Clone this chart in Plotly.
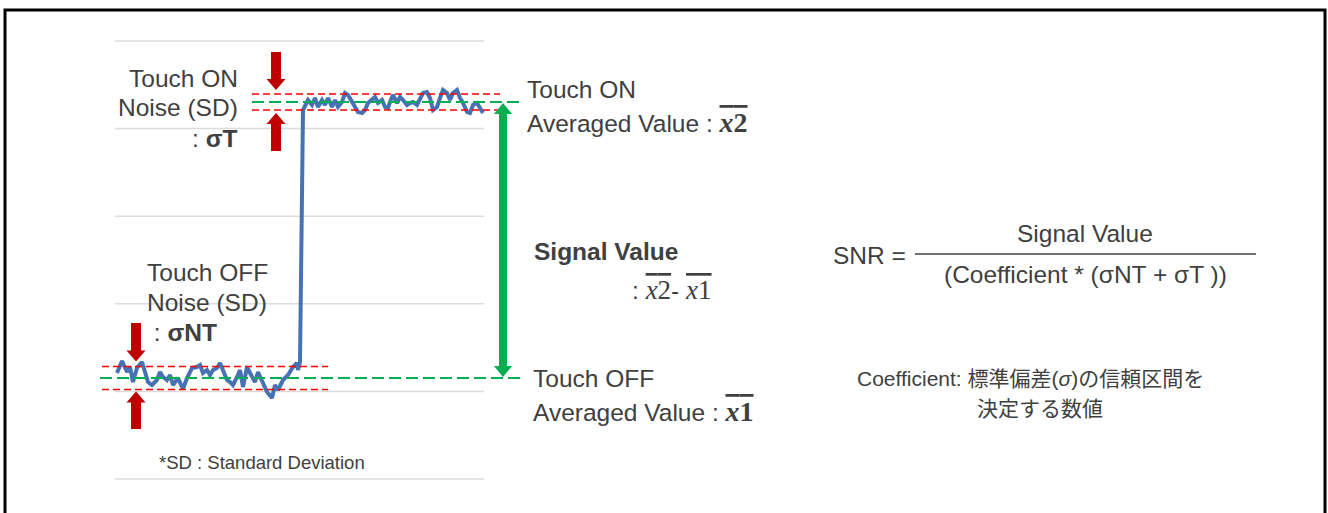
import plotly.graph_objects as go

# ---------------- data (sample index, raw signal counts) ----------------
t_touch_off = [1, 6, 11, 14, 17, 21, 26, 29, 32, 36, 41, 44, 47, 51, 54, 57, 62, 67, 71, 76,
               81, 84, 87, 91, 94, 97, 101, 104, 107, 111, 114, 117, 121, 124, 127, 131, 134,
               139, 142, 147, 151, 156, 159, 162, 167, 172, 177, 181, 182, 184]
v_touch_off = [106, 118, 107, 112, 97, 111, 117, 107, 97, 94, 99, 107, 102, 99, 104, 94, 101,
               90, 101, 111, 112, 114, 106, 109, 104, 109, 111, 116, 109, 99, 97, 94, 102, 109,
               92, 112, 106, 97, 107, 96, 87, 81, 94, 89, 99, 104, 112, 116, 109, 117]
t_touch_on = [186, 187, 192, 196, 199, 202, 206, 209, 212, 216, 219, 222, 226, 229, 232, 236,
              239, 242, 246, 249, 252, 256, 259, 262, 266, 269, 272, 274, 277, 281, 284, 287,
              291, 294, 297, 301, 304, 307, 311, 314, 317, 321, 324, 327, 331, 334, 337, 341,
              344, 347, 351, 354, 357, 361, 364, 367]
v_touch_on = [363, 369, 379, 374, 381, 372, 379, 374, 381, 372, 379, 372, 377, 386, 384, 377,
              372, 367, 366, 369, 376, 379, 382, 376, 379, 372, 371, 377, 384, 376, 382, 379,
              374, 376, 377, 374, 381, 386, 387, 381, 369, 372, 381, 389, 386, 379, 386, 389,
              381, 376, 367, 366, 374, 376, 371, 366]

off_mean, off_sd = 101, 11.5
on_mean, on_sd = 377, 8
grid_levels = [0, 87.6, 175.2, 262.8, 350.4, 438]

# ---------------- styling ----------------
W, H = 1328, 513
X0, Y0 = 116, 479          # pixel position of data origin
TXT = "#404040"
FONT = "Liberation Sans, Arial, Noto Sans CJK JP, sans-serif"
BLUE = "#4672b4"
GREEN = "#00b050"
RED_D = "#ff0000"
RED_A = "#c00000"
FS = 24.5


def X(px):
    return px - X0


def Y(py):
    return Y0 - py


fig = go.Figure()
fig.add_trace(go.Scatter(x=t_touch_off + t_touch_on, y=v_touch_off + v_touch_on,
                         mode="lines", line=dict(color=BLUE, width=4),
                         hoverinfo="skip", showlegend=False))

shapes = []
# grid lines (only under the signal plot)
for g in grid_levels:
    shapes.append(dict(type="line", xref="x", yref="y", x0=X(115), x1=X(484), y0=g, y1=g,
                       line=dict(color="#dcdcdc", width=1.5), layer="below"))

# mean lines
shapes.append(dict(type="line", xref="x", yref="y", x0=X(100), x1=X(522), y0=off_mean, y1=off_mean,
                   line=dict(color=GREEN, width=2, dash="12px,5px")))
shapes.append(dict(type="line", xref="x", yref="y", x0=X(252), x1=X(522), y0=on_mean, y1=on_mean,
                   line=dict(color=GREEN, width=2, dash="12px,5px")))
# SD bands
for lvl in (off_mean + off_sd, off_mean - off_sd):
    shapes.append(dict(type="line", xref="x", yref="y", x0=X(102), x1=X(328), y0=lvl, y1=lvl,
                       line=dict(color=RED_D, width=1.5, dash="7px,4px")))
for lvl in (on_mean + on_sd, on_mean - on_sd):
    shapes.append(dict(type="line", xref="x", yref="y", x0=X(252), x1=X(500), y0=lvl, y1=lvl,
                       line=dict(color=RED_D, width=1.5, dash="7px,4px")))


def arrow(x, y_tail, y_tip, shw=5, hhw=9.5, hl=11):
    s = 1 if y_tip > y_tail else -1
    yb = y_tip - s * hl
    return (f"M {x-shw},{y_tail} L {x-shw},{yb} L {x-hhw},{yb} L {x},{y_tip} "
            f"L {x+hhw},{yb} L {x+shw},{yb} L {x+shw},{y_tail} Z")


def darrow(x, y_lo, y_hi, shw=4, hhw=9, hl=11):
    return (f"M {x},{y_lo} L {x-hhw},{y_lo+hl} L {x-shw},{y_lo+hl} L {x-shw},{y_hi-hl} "
            f"L {x-hhw},{y_hi-hl} L {x},{y_hi} L {x+hhw},{y_hi-hl} L {x+shw},{y_hi-hl} "
            f"L {x+shw},{y_lo+hl} L {x+hhw},{y_lo+hl} Z")


ax_on, ax_off = X(276), X(136)
for p in [arrow(ax_on, on_mean + 50, on_mean + on_sd + 4),
          arrow(ax_on, on_mean - 49, on_mean - on_sd - 3),
          arrow(ax_off, off_mean + 55, off_mean + off_sd + 5),
          arrow(ax_off, off_mean - 51, off_mean - off_sd - 2)]:
    shapes.append(dict(type="path", xref="x", yref="y", path=p,
                       fillcolor=RED_A, line=dict(width=0)))
shapes.append(dict(type="path", xref="x", yref="y", path=darrow(X(503), off_mean + 1, on_mean - 1),
                   fillcolor=GREEN, line=dict(width=0)))

# fraction bar
shapes.append(dict(type="line", xref="x", yref="y", x0=X(915), x1=X(1256), y0=Y(254), y1=Y(254),
                   line=dict(color=TXT, width=1.5)))
# frame
shapes.append(dict(type="rect", xref="x", yref="y", x0=X(5), x1=X(1325), y0=Y(10), y1=Y(560),
                   line=dict(color="black", width=3)))

OV = "font-family:Liberation Serif;text-decoration:overline"
OVB = f'<span style="{OV};font-size:28px"><b><i>x</i>2</b></span>'
OVB1 = f'<span style="{OV};font-size:28px"><b><i>x</i>1</b></span>'
OV2 = f'<span style="{OV};font-size:27px"><i>x</i>2</span>'
OV1 = f'<span style="{OV};font-size:27px"><i>x</i>1</span>'

ann = []


def add(text, px, py, size=FS, xanchor="left", bold=False):
    if bold:
        text = f"<b>{text}</b>"
    ann.append(dict(text=text, x=X(px), y=Y(py), xref="x", yref="y", showarrow=False,
                    xanchor=xanchor, yanchor="middle",
                    font=dict(family=FONT, size=size, color=TXT)))


add("Touch ON", 240, 78, xanchor="right")
add("Noise (SD)", 240, 107, xanchor="right")
add(": <b>σT</b>", 239, 138, xanchor="right")

add("Touch OFF", 145, 272)
add("Noise (SD)", 145, 302)
add(" : <b>σNT</b>", 145, 332)

add("Touch ON", 525, 89)
add(f"Averaged Value : {OVB}", 525, 122)
add("Touch OFF", 531, 378)
add(f"Averaged Value : {OVB1}", 531, 411)

add("Signal Value", 532, 251, bold=True)
add(f": {OV2}- {OV1}", 630, 290)

add("SNR =", 831, 255)
add("Signal Value", 1085, 233, xanchor="center")
add("(Coefficient * (σNT + σT ))", 1085, 274, xanchor="center")

add("Coefficient: 標準偏差(<i>σ</i>)の信頼区間を", 1030, 378, size=21, xanchor="center")
add("決定する数値", 1040, 408, size=21, xanchor="center")

add("*SD : Standard Deviation", 157, 462, size=18.5)

fig.update_layout(
    width=W, height=H, margin=dict(l=0, r=0, t=0, b=0),
    paper_bgcolor="white", plot_bgcolor="white",
    xaxis=dict(range=[X(0), X(W)], visible=False, fixedrange=True),
    yaxis=dict(range=[Y(H), Y(0)], visible=False, fixedrange=True),
    shapes=shapes, annotations=ann, showlegend=False,
)
fig.write_html("out.html", config={"displayModeBar": False},
               post_script="document.body.style.margin='0';")
